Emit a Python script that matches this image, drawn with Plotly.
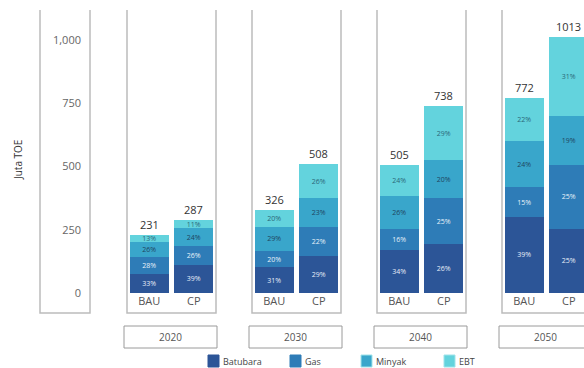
import plotly.graph_objects as go

# Energy demand per scenario (Juta TOE) and share of each source (%)
years = ["2020", "2030", "2040", "2050"]
scenarios = ["BAU", "CP"]
totals = {
    "2020": [231, 287],
    "2030": [326, 508],
    "2040": [505, 738],
    "2050": [772, 1013],
}
sources = ["Batubara", "Gas", "Minyak", "EBT"]
shares = {
    "Batubara": {"2020": [33, 39], "2030": [31, 29], "2040": [34, 26], "2050": [39, 25]},
    "Gas":      {"2020": [28, 26], "2030": [20, 22], "2040": [16, 25], "2050": [15, 25]},
    "Minyak":   {"2020": [26, 24], "2030": [29, 23], "2040": [26, 20], "2050": [24, 19]},
    "EBT":      {"2020": [13, 11], "2030": [20, 26], "2040": [24, 29], "2050": [22, 31]},
}
y_ticks = [0, 250, 500, 750, 1000]

colors = {"Batubara": "#2c5597", "Gas": "#2e7cb7", "Minyak": "#39a6cb", "EBT": "#63d3dd"}
label_colors = {"Batubara": "#e8eef8", "Gas": "#e8f2fa", "Minyak": "#1f4560", "EBT": "#2b6878"}

W, H = 584, 368
FONT = "Open Sans"
GRAY = "#bcbcbc"


def px(x):
    return x / W


def py(y):
    return 1 - y / H


plot_top, plot_bottom = 10, 293
panel_w = 89
panel_left = [127, 252, 377, 502]
cat_w = panel_w / 2

fig = go.Figure()
layout = {}
shapes = []
annotations = []

for gi, yr in enumerate(years):
    n = "" if gi == 0 else str(gi + 1)
    left = panel_left[gi]
    right = min(left + panel_w, W)
    visible_cats = (right - left) / cat_w
    layout[f"xaxis{n}"] = dict(
        domain=[px(left), px(right)], anchor=f"y{n}", type="category",
        range=[-0.5, -0.5 + visible_cats], showline=False, showgrid=False,
        zeroline=False, ticks="", automargin=False, fixedrange=True,
        tickfont=dict(family=FONT, size=11, color="#555"),
    )
    layout[f"yaxis{n}"] = dict(
        domain=[py(plot_bottom), py(plot_top)], anchor=f"x{n}",
        range=[0, 1118], showgrid=False, zeroline=False, showline=False,
        ticks="", automargin=False, fixedrange=True,
        tickvals=y_ticks, tickformat=",",
        showticklabels=(gi == 0),
        tickfont=dict(family=FONT, size=11, color="#666"),
    )
    if gi == 0:
        layout["yaxis"]["ticklabelstandoff"] = 45

    for s in sources:
        vals = [t * p / 100 for t, p in zip(totals[yr], shares[s][yr])]
        fig.add_trace(go.Bar(
            x=scenarios, y=vals, name=s, xaxis=f"x{n}", yaxis=f"y{n}",
            marker=dict(color=colors[s], line=dict(width=0)),
            text=[f"{p}%" for p in shares[s][yr]],
            textposition="inside", insidetextanchor="middle",
            textangle=0, constraintext="none",
            textfont=dict(family=FONT, size=7, color=label_colors[s]),
            showlegend=False, hoverinfo="skip",
        ))

    for cat, tot in zip(scenarios, totals[yr]):
        annotations.append(dict(
            x=cat, y=tot, xref=f"x{n}", yref=f"y{n}", text=str(tot),
            showarrow=False, xanchor="center", yanchor="bottom", yshift=1,
            font=dict(family=FONT, size=11, color="#333"),
        ))

    # panel frame (sides and bottom)
    pl, pr = left, left + panel_w
    shapes.append(dict(type="path", xref="paper", yref="paper",
                       path=f"M {px(pl)} {py(plot_top)} L {px(pl)} {py(313)} "
                            f"L {px(pr)} {py(313)} L {px(pr)} {py(plot_top)}",
                       line=dict(color=GRAY, width=1.5)))
    # year box
    shapes.append(dict(type="rect", xref="paper", yref="paper",
                       x0=px(pl - 3), x1=px(pr + 1), y0=py(348), y1=py(326),
                       line=dict(color="#9a9a9a", width=1), fillcolor="white"))
    annotations.append(dict(x=px((pl + pr) / 2 - 1), y=py(337), xref="paper", yref="paper",
                            text=yr, showarrow=False, xanchor="center", yanchor="middle",
                            font=dict(family=FONT, size=10, color="#555")))

# y-axis frame
shapes.append(dict(type="path", xref="paper", yref="paper",
                   path=f"M {px(40)} {py(plot_top)} L {px(40)} {py(313)} "
                        f"L {px(90)} {py(313)} L {px(90)} {py(plot_top)}",
                   line=dict(color=GRAY, width=1.5)))
annotations.append(dict(x=px(18), y=py(160), xref="paper", yref="paper",
                        text="Juta TOE", textangle=-90, showarrow=False,
                        xanchor="center", yanchor="middle",
                        font=dict(family=FONT, size=10, color="#333")))

# legend
legend_x = {"Batubara": 208, "Gas": 290, "Minyak": 361, "EBT": 444}
for s in sources:
    x0 = legend_x[s]
    edge = "#9fe3ea" if s in ("Minyak", "EBT") else colors[s]
    shapes.append(dict(type="rect", xref="paper", yref="paper",
                       x0=px(x0), x1=px(x0 + 11), y0=py(367), y1=py(355),
                       fillcolor=colors[s], line=dict(color=edge, width=1)))
    annotations.append(dict(x=px(x0 + 13), y=py(361), xref="paper", yref="paper",
                            text=s, showarrow=False, xanchor="left", yanchor="middle",
                            font=dict(family=FONT, size=9, color="#444")))

fig.update_layout(
    width=W, height=H, margin=dict(l=0, r=0, t=0, b=0),
    paper_bgcolor="white", plot_bgcolor="white",
    barmode="stack", bargap=0.12,
    shapes=shapes, annotations=annotations, showlegend=False,
    **layout,
)

fig.write_html("out.html")
